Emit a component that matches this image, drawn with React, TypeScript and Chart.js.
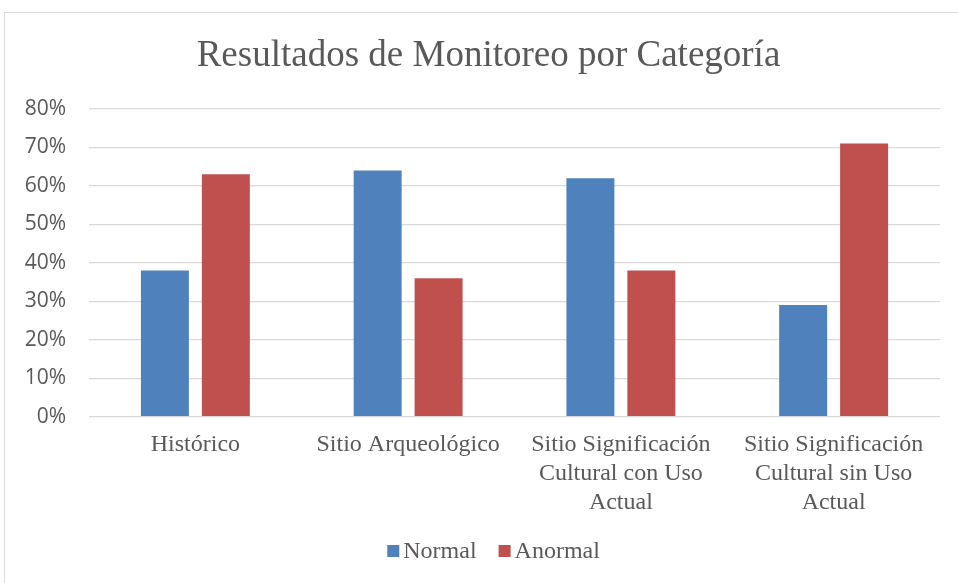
import React, { useEffect, useRef } from 'react';
import { Chart, registerables } from 'chart.js';

Chart.register(...registerables);

const categories: string[][] = [
  ['Histórico'],
  ['Sitio Arqueológico'],
  ['Sitio Significación', 'Cultural con Uso', 'Actual'],
  ['Sitio Significación', 'Cultural sin Uso', 'Actual'],
];
const normalValues = [38, 64, 62, 29];
const anormalValues = [63, 36, 38, 71];
const seriesLabels = ['Normal', 'Anormal'];
const seriesColors = ['#4f81bd', '#c0504d'];
const titleText = 'Resultados de Monitoreo por Categoría';

const TEXT_COLOR = '#595959';
const SERIF = '"Liberation Serif", "Times New Roman", serif';
const TITLE_CX = 488.5;
const TITLE_BASELINE = 66;
const LEGEND_CX = 493.6;
const LEGEND_BASELINE = 558;

const customTitle = {
  id: 'customTitle',
  afterDraw(chart: any) {
    const ctx = chart.ctx;
    ctx.save();
    ctx.font = `37px ${SERIF}`;
    ctx.fillStyle = TEXT_COLOR;
    ctx.textAlign = 'center';
    ctx.textBaseline = 'alphabetic';
    ctx.fillText(titleText, TITLE_CX, TITLE_BASELINE);
    ctx.restore();
  },
};

const customLegend = {
  id: 'customLegend',
  afterDraw(chart: any) {
    const ctx = chart.ctx;
    ctx.save();
    ctx.font = `24px ${SERIF}`;
    const items = chart.data.datasets.map((ds: any) => ({
      label: ds.label,
      color: ds.backgroundColor,
      w: ctx.measureText(ds.label).width,
    }));
    const box = 12;
    const gap = 4;
    const spacing = 22;
    const total =
      items.reduce((s: number, it: any) => s + box + gap + it.w, 0) + spacing * (items.length - 1);
    let x = LEGEND_CX - total / 2;
    ctx.textBaseline = 'alphabetic';
    ctx.textAlign = 'left';
    items.forEach((it: any) => {
      ctx.fillStyle = it.color;
      ctx.fillRect(x, LEGEND_BASELINE - 13, box, box);
      x += box + gap;
      ctx.fillStyle = TEXT_COLOR;
      ctx.fillText(it.label, x, LEGEND_BASELINE);
      x += it.w + spacing;
    });
    ctx.restore();
  },
};

export default function App() {
  const canvasRef = useRef<HTMLCanvasElement | null>(null);

  useEffect(() => {
    if (!canvasRef.current) return;
    const chart = new Chart(canvasRef.current, {
      type: 'bar',
      data: {
        labels: categories,
        datasets: [
          {
            label: seriesLabels[0],
            data: normalValues,
            backgroundColor: seriesColors[0],
            categoryPercentage: 0.573,
            barPercentage: 0.787,
          },
          {
            label: seriesLabels[1],
            data: anormalValues,
            backgroundColor: seriesColors[1],
            categoryPercentage: 0.573,
            barPercentage: 0.787,
          },
        ],
      },
      options: {
        animation: false,
        responsive: false,
        maintainAspectRatio: false,
        layout: { padding: { left: 6, right: 18, top: 109, bottom: 52 } },
        plugins: {
          legend: { display: false },
          tooltip: { enabled: false },
          title: { display: false },
        },
        scales: {
          x: {
            grid: { display: false, drawTicks: false },
            border: { display: false },
            ticks: {
              color: TEXT_COLOR,
              font: { family: SERIF, size: 24, lineHeight: 1.2 },
              padding: 14,
              maxRotation: 0,
              autoSkip: false,
            },
          },
          y: {
            min: 0,
            max: 80,
            afterFit: (scale: any) => {
              scale.width = 83;
            },
            grid: { color: '#d9d9d9', lineWidth: 1.3, drawTicks: false },
            border: { display: false },
            ticks: {
              stepSize: 10,
              color: TEXT_COLOR,
              padding: 23,
              font: { family: '"Open Sans", sans-serif', size: 21 },
              callback: (v: any) => `${v}%`,
            },
          },
        },
      },
      plugins: [customTitle, customLegend],
    });
    return () => chart.destroy();
  }, []);

  return (
    <div
      style={{
        position: 'fixed',
        left: 0,
        top: 0,
        width: 958,
        height: 583,
        overflow: 'hidden',
        background: '#ffffff',
      }}
    >
      <div
        style={{
          position: 'absolute',
          left: 4,
          top: 12,
          width: 1100,
          height: 1100,
          border: '1px solid #d9d9d9',
          boxSizing: 'border-box',
        }}
      />
      <canvas
        ref={canvasRef}
        width={958}
        height={583}
        style={{ position: 'absolute', left: 0, top: 0, width: 958, height: 583 }}
      />
    </div>
  );
}
